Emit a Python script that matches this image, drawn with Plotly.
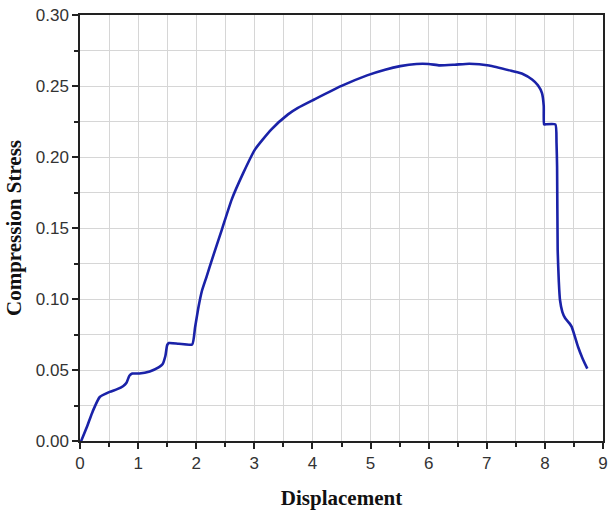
import plotly.graph_objects as go

displacement = [0.0, 0.12, 0.22, 0.34, 0.51, 0.64, 0.74, 0.80, 0.85, 0.90, 1.02, 1.20, 1.36, 1.42, 1.47, 1.50, 1.53, 1.70, 1.93,
                1.98, 2.04, 2.10, 2.18, 2.27, 2.44, 2.61, 2.81, 3.01, 3.29, 3.58, 3.75, 4.03, 4.49, 4.94, 5.25, 5.51, 5.79,
                6.00, 6.19, 6.45, 6.70, 7.04, 7.44, 7.62, 7.78, 7.88, 7.95, 7.98, 7.985, 8.00, 8.18, 8.20, 8.21, 8.22, 8.24,
                8.26, 8.30, 8.35, 8.42, 8.46, 8.52, 8.57, 8.65, 8.73]
stress = [-0.002, 0.010, 0.021, 0.031, 0.0346, 0.0365, 0.0386, 0.041, 0.046, 0.0475, 0.0475, 0.049, 0.052, 0.054, 0.060, 0.0675, 0.069, 0.0685, 0.068,
          0.080, 0.0946, 0.106, 0.116, 0.1276, 0.1487, 0.170, 0.1888, 0.2052, 0.2193, 0.230, 0.2346, 0.2405, 0.2499, 0.2575, 0.2615, 0.264, 0.2655,
          0.2655, 0.2645, 0.265, 0.2657, 0.2645, 0.2605, 0.2585, 0.2546, 0.2505, 0.245, 0.236, 0.223, 0.223, 0.223, 0.210, 0.193, 0.1346, 0.112,
          0.0993, 0.091, 0.0864, 0.083, 0.0805, 0.073, 0.0664, 0.058, 0.051]

x_ticks = [0, 1, 2, 3, 4, 5, 6, 7, 8, 9]
y_ticks = [0.00, 0.05, 0.10, 0.15, 0.20, 0.25, 0.30]

fig = go.Figure()
fig.add_trace(go.Scatter(x=displacement, y=stress, mode="lines",
                         line=dict(color="#1a22a8", width=2.6, shape="spline", smoothing=0.5),
                         showlegend=False))

grid_color = "#d6d6d6"
fig.update_layout(
    width=611, height=510,
    margin=dict(l=80, r=3, t=15, b=69),
    paper_bgcolor="white", plot_bgcolor="white",
    font=dict(family="Liberation Sans, Arial, sans-serif", size=17, color="#333333"),
)
fig.update_xaxes(
    range=[0, 9], tickvals=x_ticks, ticktext=[str(v) for v in x_ticks],
    showline=True, linecolor="#222222", linewidth=1.5, mirror=True,
    ticks="outside", ticklen=6, tickwidth=1.5, tickcolor="#222222",
    showgrid=True, gridcolor=grid_color, gridwidth=1, zeroline=False,
    minor=dict(dtick=0.5, tick0=0, ticks="outside", ticklen=4, tickcolor="#222222", tickwidth=1.5,
               showgrid=True, gridcolor=grid_color, gridwidth=1),
    title=dict(text="<b>Displacement</b>", font=dict(family="Liberation Serif, Times New Roman, serif", size=21, color="#111111"), standoff=18),
)
fig.update_yaxes(
    range=[0, 0.30], tickvals=y_ticks, ticktext=[f"{v:.2f}" for v in y_ticks],
    showline=True, linecolor="#222222", linewidth=1.5, mirror=True,
    ticks="outside", ticklen=6, tickwidth=1.5, tickcolor="#222222",
    showgrid=True, gridcolor=grid_color, gridwidth=1, zeroline=False,
    minor=dict(dtick=0.025, tick0=0, ticks="outside", ticklen=4, tickcolor="#222222", tickwidth=1.5,
               showgrid=True, gridcolor=grid_color, gridwidth=1),
    title=dict(text="<b>Compression Stress</b>", font=dict(family="Liberation Serif, Times New Roman, serif", size=21, color="#111111"), standoff=8),
)

fig.write_html("out.html")
